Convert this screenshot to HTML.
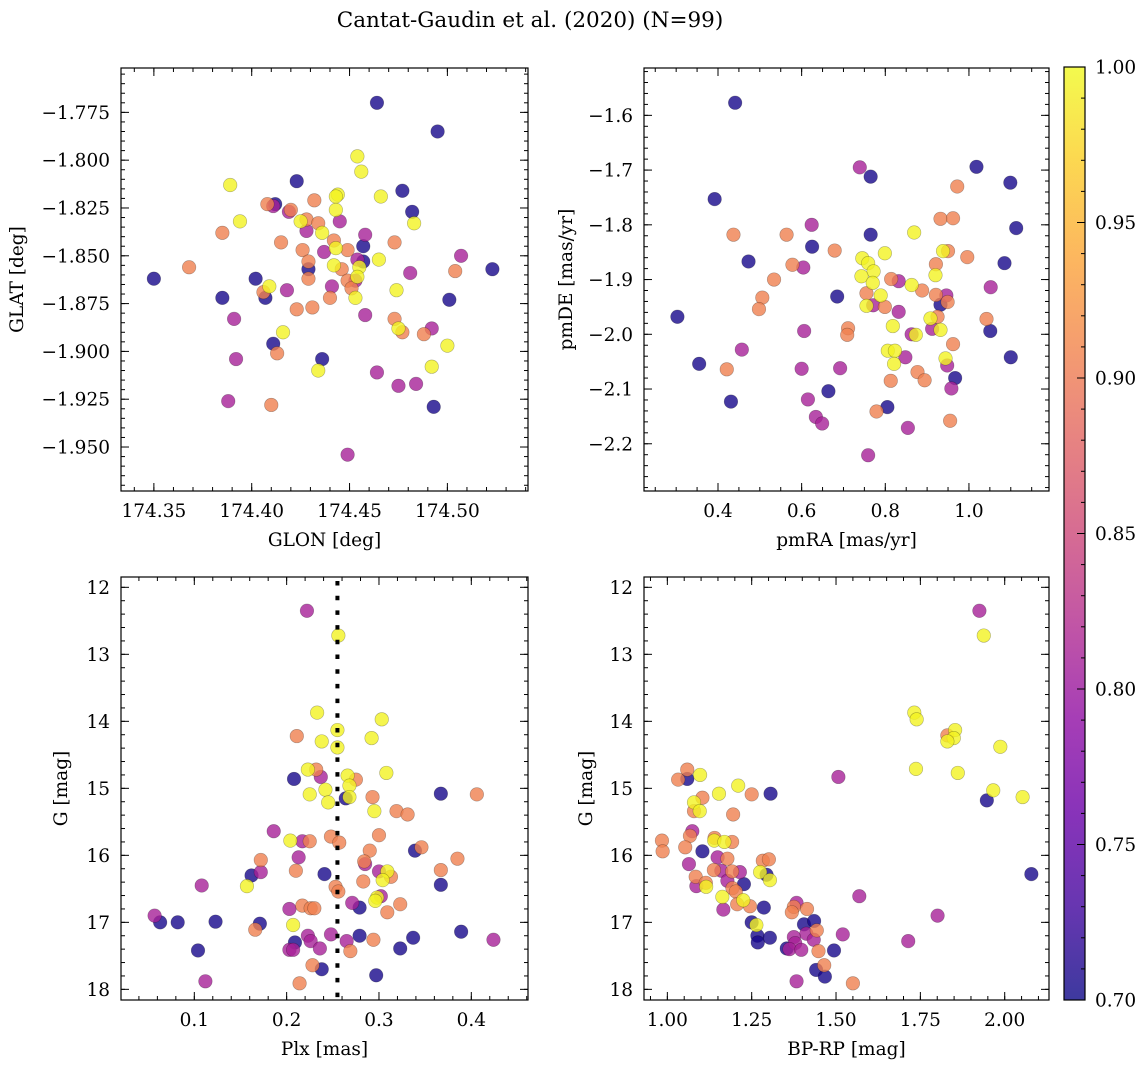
<!DOCTYPE html>
<html><head><meta charset="utf-8"><style>
html,body{margin:0;padding:0;background:#fff;}
svg text{font-family:"DejaVu Serif","Liberation Serif",serif;fill:#000;}
</style></head><body>
<svg id="fig" width="1148" height="1067" viewBox="0 0 1148 1067" xmlns="http://www.w3.org/2000/svg">
<text x="530" y="27" font-size="21.5" text-anchor="middle">Cantat-Gaudin et al. (2020) (N=99)</text>
</svg>
<script>
// ---- data (membership probability codes: B=0.705, P=0.81, S=0.905, Y=0.995) ----
const glon=[174.464,174.495,174.454,174.456,174.389,174.423,174.477,174.466,174.444,174.443,174.432,174.408,174.412,174.411,174.420,174.419,174.482,174.443,174.483,174.394,174.428,174.434,174.445,174.425,174.428,174.385,174.436,174.458,174.415,174.473,174.442,174.457,174.426,174.437,174.443,174.449,174.507,174.457,174.465,174.454,174.429,174.429,174.368,174.523,174.504,174.442,174.446,174.455,174.481,174.429,174.350,174.402,174.454,174.449,174.453,174.441,174.409,174.406,174.418,174.451,174.385,174.407,174.440,174.474,174.501,174.453,174.423,174.431,174.458,174.391,174.473,174.475,174.477,174.492,174.488,174.416,174.500,174.411,174.413,174.392,174.436,174.434,174.464,174.492,174.484,174.475,174.388,174.410,174.493,174.449];
const glat=[-1.770,-1.785,-1.798,-1.806,-1.813,-1.811,-1.816,-1.819,-1.818,-1.819,-1.821,-1.823,-1.823,-1.824,-1.826,-1.827,-1.827,-1.826,-1.833,-1.832,-1.831,-1.833,-1.832,-1.832,-1.837,-1.838,-1.838,-1.839,-1.843,-1.843,-1.842,-1.845,-1.847,-1.848,-1.846,-1.847,-1.850,-1.853,-1.852,-1.852,-1.853,-1.857,-1.856,-1.857,-1.858,-1.855,-1.857,-1.856,-1.859,-1.862,-1.862,-1.862,-1.861,-1.863,-1.863,-1.866,-1.866,-1.869,-1.868,-1.867,-1.872,-1.872,-1.872,-1.868,-1.873,-1.872,-1.878,-1.877,-1.881,-1.883,-1.883,-1.888,-1.890,-1.888,-1.891,-1.890,-1.897,-1.896,-1.901,-1.904,-1.904,-1.910,-1.911,-1.908,-1.917,-1.918,-1.926,-1.928,-1.929,-1.954];
const probPos=[.705,.705,.995,.995,.995,.705,.705,.995,.995,.995,.905,.905,.705,.81,.905,.81,.705,.995,.995,.995,.905,.905,.81,.995,.81,.905,.995,.81,.905,.905,.905,.705,.905,.81,.995,.905,.81,.705,.995,.81,.905,.705,.905,.705,.905,.995,.905,.995,.81,.905,.705,.705,.995,.905,.81,.81,.995,.905,.81,.905,.705,.705,.905,.995,.705,.995,.905,.905,.81,.81,.905,.995,.905,.81,.905,.995,.995,.705,.905,.81,.705,.995,.81,.995,.81,.81,.81,.905,.705,.81];

const pmra=[0.441,0.739,0.765,1.018,1.099,0.972,0.392,0.932,0.962,0.624,1.113,0.437,0.564,0.765,0.869,0.625,0.679,0.799,0.938,0.950,0.996,0.745,0.473,1.085,0.759,0.921,0.578,0.604,0.772,0.920,0.743,0.534,0.814,0.832,0.770,0.863,1.052,0.888,0.921,0.946,0.755,0.789,0.685,0.506,0.932,0.949,0.755,0.771,0.799,0.498,0.832,0.303,0.925,0.908,1.042,1.051,0.818,0.711,0.709,0.606,0.863,0.873,0.912,0.932,0.962,0.457,0.806,0.823,0.848,0.944,1.100,0.355,0.821,0.948,0.421,0.600,0.692,0.877,0.894,0.967,0.813,0.958,0.664,0.431,0.615,0.805,0.779,0.634,0.649,0.955,0.854,0.759];
const pmde=[-1.577,-1.695,-1.712,-1.694,-1.723,-1.730,-1.753,-1.789,-1.788,-1.800,-1.806,-1.818,-1.818,-1.818,-1.814,-1.840,-1.847,-1.852,-1.848,-1.848,-1.859,-1.861,-1.867,-1.870,-1.870,-1.872,-1.873,-1.878,-1.885,-1.892,-1.894,-1.900,-1.899,-1.903,-1.906,-1.910,-1.914,-1.920,-1.928,-1.929,-1.925,-1.929,-1.931,-1.933,-1.946,-1.941,-1.948,-1.947,-1.950,-1.954,-1.959,-1.968,-1.968,-1.971,-1.972,-1.994,-1.985,-1.989,-2.001,-1.994,-2.000,-2.001,-1.990,-1.992,-2.018,-2.028,-2.030,-2.030,-2.042,-2.044,-2.042,-2.054,-2.054,-2.057,-2.064,-2.063,-2.062,-2.069,-2.084,-2.080,-2.085,-2.099,-2.104,-2.123,-2.119,-2.133,-2.141,-2.151,-2.163,-2.158,-2.171,-2.221];
const probPm=[.705,.81,.705,.705,.705,.905,.705,.905,.905,.81,.705,.905,.905,.705,.995,.705,.905,.995,.995,.905,.905,.995,.705,.705,.995,.905,.905,.81,.995,.995,.995,.905,.905,.81,.995,.995,.81,.905,.905,.81,.905,.995,.705,.905,.705,.905,.995,.81,.905,.905,.81,.705,.905,.995,.905,.705,.995,.905,.905,.81,.81,.995,.81,.995,.905,.81,.995,.995,.81,.995,.705,.705,.995,.81,.905,.81,.81,.905,.905,.705,.905,.81,.705,.705,.81,.705,.905,.81,.81,.905,.81,.81];

const plx=[0.222,0.256,0.233,0.303,0.211,0.255,0.238,0.255,0.292,0.223,0.232,0.237,0.208,0.308,0.266,0.275,0.268,0.242,0.225,0.367,0.406,0.293,0.264,0.268,0.245,0.295,0.319,0.331,0.186,0.204,0.217,0.225,0.248,0.257,0.300,0.290,0.339,0.346,0.385,0.213,0.172,0.284,0.285,0.162,0.172,0.210,0.241,0.300,0.309,0.313,0.304,0.283,0.367,0.367,0.108,0.157,0.253,0.256,0.302,0.298,0.296,0.271,0.279,0.323,0.309,0.217,0.226,0.230,0.203,0.057,0.063,0.082,0.123,0.171,0.166,0.207,0.248,0.279,0.294,0.337,0.389,0.424,0.223,0.226,0.209,0.203,0.207,0.236,0.265,0.269,0.323,0.104,0.228,0.238,0.297,0.112,0.214];
const gPlx=[12.35,12.72,13.87,13.97,14.22,14.13,14.30,14.39,14.25,14.72,14.72,14.83,14.86,14.77,14.81,14.87,14.96,15.02,15.09,15.08,15.09,15.13,15.15,15.13,15.21,15.34,15.34,15.39,15.64,15.78,15.79,15.79,15.72,15.81,15.70,15.93,15.93,15.88,16.05,16.03,16.07,16.09,16.13,16.30,16.25,16.23,16.28,16.24,16.24,16.32,16.37,16.39,16.22,16.44,16.45,16.46,16.47,16.54,16.61,16.63,16.68,16.71,16.78,16.73,16.85,16.75,16.79,16.79,16.80,16.90,17.00,17.00,16.99,17.02,17.11,17.04,17.18,17.20,17.26,17.23,17.14,17.26,17.20,17.28,17.30,17.41,17.41,17.39,17.28,17.43,17.39,17.42,17.64,17.70,17.79,17.88,17.91];
const probPlx=[.81,.995,.995,.995,.905,.995,.995,.995,.995,.995,.905,.81,.705,.995,.995,.905,.995,.995,.995,.705,.905,.905,.705,.995,.995,.995,.905,.905,.81,.995,.81,.905,.905,.905,.905,.905,.705,.905,.905,.81,.905,.905,.81,.705,.81,.905,.705,.81,.995,.905,.995,.905,.905,.705,.81,.995,.905,.905,.81,.995,.995,.81,.705,.905,.905,.905,.905,.905,.81,.81,.705,.705,.705,.705,.905,.995,.81,.705,.905,.705,.705,.81,.81,.81,.705,.81,.81,.81,.81,.905,.705,.705,.905,.705,.705,.81,.905];
const plxRef=[0.255];

const bprp=[1.925,1.938,1.732,1.739,1.830,1.853,1.849,1.830,1.987,1.737,1.861,1.507,1.059,1.032,1.059,1.097,1.210,1.153,1.250,1.306,1.966,1.947,2.053,1.104,1.079,1.079,1.096,1.195,1.074,1.067,1.140,1.139,1.169,1.192,0.984,0.986,1.053,1.104,1.149,1.178,1.283,1.301,1.064,1.138,1.160,1.192,1.215,1.275,1.294,1.304,2.079,1.084,1.086,1.114,1.115,1.178,1.227,1.193,1.203,1.163,1.225,1.207,1.245,1.166,1.286,1.569,1.383,1.375,1.369,1.414,1.801,1.250,1.264,1.267,1.268,1.304,1.405,1.435,1.443,1.412,1.434,1.520,1.714,1.375,1.379,1.354,1.362,1.397,1.448,1.494,1.441,1.465,1.467,1.383,1.550];
const gCmd=[12.35,12.72,13.87,13.97,14.21,14.13,14.25,14.30,14.38,14.71,14.77,14.83,14.72,14.87,14.86,14.80,14.96,15.08,15.09,15.08,15.03,15.18,15.13,15.14,15.21,15.34,15.34,15.39,15.64,15.71,15.74,15.78,15.80,15.80,15.78,15.94,15.88,15.94,16.03,16.05,16.08,16.06,16.13,16.22,16.23,16.24,16.25,16.25,16.29,16.37,16.28,16.32,16.46,16.41,16.47,16.38,16.43,16.49,16.54,16.62,16.67,16.73,16.76,16.81,16.78,16.61,16.71,16.77,16.85,16.80,16.90,17.00,17.04,17.20,17.30,17.23,17.03,16.98,17.12,17.17,17.26,17.18,17.28,17.22,17.31,17.39,17.40,17.41,17.43,17.42,17.71,17.64,17.81,17.88,17.91];
const probCmd=[.81,.995,.995,.995,.905,.995,.995,.995,.995,.995,.995,.81,.905,.905,.705,.995,.995,.995,.905,.705,.995,.705,.995,.905,.995,.905,.995,.905,.81,.905,.905,.995,.995,.905,.905,.905,.905,.705,.81,.905,.905,.905,.81,.905,.81,.905,.81,.995,.705,.995,.705,.905,.81,.905,.995,.81,.705,.905,.905,.995,.995,.905,.905,.81,.705,.81,.81,.905,.905,.905,.81,.705,.995,.705,.705,.705,.705,.705,.905,.81,.81,.81,.81,.81,.81,.705,.81,.81,.905,.705,.705,.905,.705,.81,.905];

const cbarTicks=[0.70,0.75,0.80,0.85,0.90,0.95,1.00];

// ---- helpers ----
const NS='http://www.w3.org/2000/svg';
const svg=document.getElementById('fig');
const FS=18.5;
function mk(tag,attrs,parent){const e=document.createElementNS(NS,tag);for(const k in attrs)e.setAttribute(k,attrs[k]);(parent||svg).appendChild(e);return e;}
const stops=['#0d0887','#41049d','#6a00a8','#8f0da4','#b12a90','#cc4778','#e16462','#f2844b','#fca636','#fcce25','#f0f921'];
function hex2rgb(h){return [parseInt(h.substr(1,2),16),parseInt(h.substr(3,2),16),parseInt(h.substr(5,2),16)];}
function plasma(t){t=Math.max(0,Math.min(1,t));const f=t*10,i=Math.min(9,Math.floor(f)),u=f-i;const a=hex2rgb(stops[i]),b=hex2rgb(stops[i+1]);return 'rgb('+a.map((v,k)=>Math.round(v+(b[k]-v)*u)).join(',')+')';}
const VMIN=0.70,VMAX=1.00;
function fmt(v,d){const s=Math.abs(v).toFixed(d);return (v<-1e-9?'\u2212':'')+s;}

function panel(o){
  const g=mk('g',{});
  
  
  const sx=v=>o.l+(v-o.x0)/(o.x1-o.x0)*(o.r-o.l);
  const sy=v=>o.t+(v-o.y0)/(o.y1-o.y0)*(o.b-o.t);
  const cid='clip-'+o.name;
  const cp=mk('clipPath',{id:cid},g);mk('rect',{x:o.l,y:o.t,width:o.r-o.l,height:o.b-o.t},cp);
  const pts=mk('g',{'clip-path':'url(#'+cid+')'},g);
  
  
  const idx=o.xs.map((_,i)=>i).sort((a,b)=>o.cs[a]-o.cs[b]);
  idx.forEach(i=>{
    const c=mk('circle',{cx:sx(o.xs[i]),cy:sy(o.ys[i]),r:6.8,fill:plasma((o.cs[i]-VMIN)/(VMAX-VMIN)),'fill-opacity':0.8,stroke:'#000','stroke-opacity':0.3,'stroke-width':0.6},pts);
    
    
  });
  if(o.vline){
    const ln=mk('line',{x1:sx(o.vline[0]),x2:sx(o.vline[0]),y1:o.t,y2:o.b,stroke:'#000','stroke-width':4,'stroke-dasharray':'4.5 10.2','stroke-dashoffset':'-4'},pts);
    
    
  }
  mk('rect',{x:o.l,y:o.t,width:o.r-o.l,height:o.b-o.t,fill:'none',stroke:'#000','stroke-width':1.2},g);
  const tk=mk('g',{stroke:'#000','stroke-width':1},g);
  function ticksX(v,len){const x=sx(v);mk('line',{x1:x,x2:x,y1:o.b,y2:o.b-len},tk);mk('line',{x1:x,x2:x,y1:o.t,y2:o.t+len},tk);}
  function ticksY(v,len){const y=sy(v);mk('line',{x1:o.l,x2:o.l+len,y1:y,y2:y},tk);mk('line',{x1:o.r,x2:o.r-len,y1:y,y2:y},tk);}
  const xlo=Math.min(o.x0,o.x1),xhi=Math.max(o.x0,o.x1),ylo=Math.min(o.y0,o.y1),yhi=Math.max(o.y0,o.y1);
  for(let k=Math.ceil(xlo/o.xmin-1e-6);k*o.xmin<=xhi+1e-9;k++)ticksX(k*o.xmin,4);
  for(let k=Math.ceil(ylo/o.ymin-1e-6);k*o.ymin<=yhi+1e-9;k++)ticksY(k*o.ymin,4);
  o.xt.forEach(v=>{ticksX(v,8);const t=mk('text',{x:sx(v),y:o.b+26,'font-size':FS,'text-anchor':'middle'},g);t.textContent=fmt(v,o.xd);});
  o.yt.forEach(v=>{ticksY(v,8);const t=mk('text',{x:o.l-11,y:sy(v)+6.5,'font-size':FS,'text-anchor':'end'},g);t.textContent=fmt(v,o.yd);});
  const xl=mk('text',{x:(o.l+o.r)/2,y:o.b+55,'font-size':FS,'text-anchor':'middle'},g);xl.textContent=o.xlab;
  
  const yl=mk('text',{x:0,y:0,'font-size':FS,'text-anchor':'middle',transform:'translate('+o.ylx+','+((o.t+o.b)/2)+') rotate(-90)'},g);yl.textContent=o.ylab;
  
}

panel({name:'position-panel',l:121,t:68,r:528,b:491,x0:174.3332,x1:174.5412,y0:-1.7518,y1:-1.9730,
  xs:glon,ys:glat,cs:probPos,xt:[174.35,174.40,174.45,174.50],xd:2,xmin:0.01,yt:[-1.775,-1.800,-1.825,-1.850,-1.875,-1.900,-1.925,-1.950],yd:3,ymin:0.005,
  xlab:'GLON [deg]',ylab:'GLAT [deg]',ylx:23});
panel({name:'proper-motion-panel',l:644,t:68,r:1049,b:491,x0:0.2231,x1:1.1914,y0:-1.5135,y1:-2.2863,
  xs:pmra,ys:pmde,cs:probPm,xt:[0.4,0.6,0.8,1.0],xd:1,xmin:0.05,yt:[-1.6,-1.7,-1.8,-1.9,-2.0,-2.1,-2.2],yd:1,ymin:0.02,
  xlab:'pmRA [mas/yr]',ylab:'pmDE [mas/yr]',ylx:572});
panel({name:'parallax-magnitude-panel',l:121,t:577,r:528,b:1000,x0:0.0206,x1:0.4614,y0:11.846,y1:18.159,
  xs:plx,ys:gPlx,cs:probPlx,vline:plxRef,xt:[0.1,0.2,0.3,0.4],xd:1,xmin:0.02,yt:[12,13,14,15,16,17,18],yd:0,ymin:0.2,
  xlab:'Plx [mas]',ylab:'G [mag]',ylx:67});
panel({name:'color-magnitude-panel',l:644,t:577,r:1049,b:1000,x0:0.9308,x1:2.1313,y0:11.846,y1:18.159,
  xs:bprp,ys:gCmd,cs:probCmd,xt:[1.00,1.25,1.50,1.75,2.00],xd:2,xmin:0.05,yt:[12,13,14,15,16,17,18],yd:0,ymin:0.2,
  xlab:'BP-RP [mag]',ylab:'G [mag]',ylx:592});

// ---- colorbar ----
(function(){
  const L=1064,R=1085,T=67,B=1000;
  const g=mk('g',{});
  
  
  const defs=mk('defs',{},g);
  const lg=mk('linearGradient',{id:'cbgrad',x1:0,y1:1,x2:0,y2:0},defs);
  for(let i=0;i<=20;i++){mk('stop',{offset:(i/20),'stop-color':plasma(i/20)},lg);}
  mk('rect',{x:L,y:T,width:R-L,height:B-T,fill:'url(#cbgrad)','fill-opacity':0.8},g);
  mk('rect',{x:L,y:T,width:R-L,height:B-T,fill:'none',stroke:'#000','stroke-width':1.2},g);
  const sy=v=>B-(v-VMIN)/(VMAX-VMIN)*(B-T);
  for(let k=70;k<=100;k++){const y=sy(k/100);mk('line',{x1:R,x2:R-4,y1:y,y2:y,stroke:'#000','stroke-width':1},g);}
  cbarTicks.forEach(v=>{const y=sy(v);mk('line',{x1:R,x2:R-8,y1:y,y2:y,stroke:'#000','stroke-width':1},g);
    const t=mk('text',{x:R+10,y:y+6.5,'font-size':FS},g);t.textContent=v.toFixed(2);
    
    });
})();
</script>
</body></html>
